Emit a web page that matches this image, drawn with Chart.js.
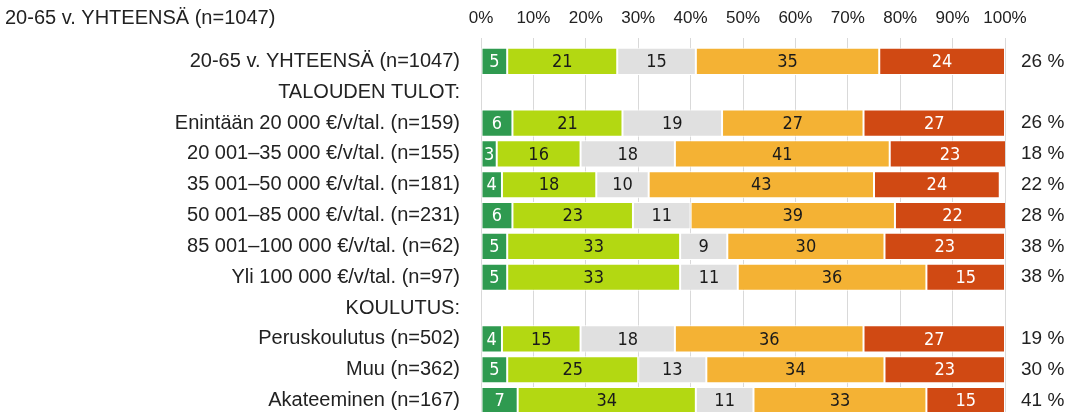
<!DOCTYPE html>
<html>
<head>
<meta charset="utf-8">
<script src="https://cdn.jsdelivr.net/npm/chart.js@4.4.1/dist/chart.umd.min.js"></script>
<style>
  html, body { margin: 0; padding: 0; background: #fff; overflow: hidden; }
  #wrap { width: 1091px; height: 416px; position: relative; }
</style>
</head>
<body>
<div id="wrap"><canvas id="chart"></canvas></div>
<script>
const FONT = '"Liberation Sans", Arial, sans-serif';
const NARROW = '"Liberation Sans Narrow", "DejaVu Sans Condensed", "Liberation Sans", sans-serif';

const title = '20-65 v. YHTEENSÄ (n=1047)';

const categories = [
  '20-65 v. YHTEENSÄ (n=1047)',
  'TALOUDEN TULOT:',
  'Enintään 20 000 €/v/tal. (n=159)',
  '20 001–35 000 €/v/tal. (n=155)',
  '35 001–50 000 €/v/tal. (n=181)',
  '50 001–85 000 €/v/tal. (n=231)',
  '85 001–100 000 €/v/tal. (n=62)',
  'Yli 100 000 €/v/tal. (n=97)',
  'KOULUTUS:',
  'Peruskoulutus (n=502)',
  'Muu (n=362)',
  'Akateeminen (n=167)'
];

// stacked shares per row, header rows are null
const darkGreen  = [5, null, 6, 3, 4, 6, 5, 5, null, 4, 5, 7];
const lightGreen = [21, null, 21, 16, 18, 23, 33, 33, null, 15, 25, 34];
const grey       = [15, null, 19, 18, 10, 11, 9, 11, null, 18, 13, 11];
const orange     = [35, null, 27, 41, 43, 39, 30, 36, null, 36, 34, 33];
const red        = [24, null, 27, 23, 24, 22, 23, 15, null, 27, 23, 15];

const rightLabels = ['26 %', '', '26 %', '18 %', '22 %', '28 %', '38 %', '38 %', '', '19 %', '30 %', '41 %'];
const tickLabels = ['0%', '10%', '20%', '30%', '40%', '50%', '60%', '70%', '80%', '90%', '100%'];

function series(data, bg, textColor) {
  return {
    data: data,
    backgroundColor: bg,
    borderColor: '#ffffff',
    borderWidth: 1,
    borderSkipped: false,
    barPercentage: 0.88,
    categoryPercentage: 1.0,
    textColor: textColor
  };
}

// vertical axes: fixed width and no extra label padding top/bottom
function fixWidth(w) {
  return function (scale) {
    scale.width = w;
    scale.paddingTop = 0;
    scale.paddingBottom = 0;
  };
}

// numbers inside the segments
const valueLabels = {
  id: 'valueLabels',
  afterDatasetsDraw(chart) {
    const ctx = chart.ctx;
    ctx.save();
    ctx.font = '18px ' + NARROW;
    ctx.textAlign = 'center';
    ctx.textBaseline = 'middle';
    chart.data.datasets.forEach((ds, di) => {
      chart.getDatasetMeta(di).data.forEach((bar, i) => {
        const v = ds.data[i];
        if (v == null) return;
        const p = bar.getCenterPoint();
        ctx.fillStyle = ds.textColor;
        ctx.fillText(String(v), p.x, p.y + 1);
      });
    });
    ctx.restore();
  }
};

// heading in the top-left corner, on the tick label line
const cornerTitle = {
  id: 'cornerTitle',
  afterDraw(chart) {
    const ctx = chart.ctx;
    ctx.save();
    ctx.font = '20px ' + FONT;
    ctx.fillStyle = '#222';
    ctx.textAlign = 'left';
    ctx.textBaseline = 'middle';
    ctx.fillText(title, 5, 18);
    ctx.restore();
  }
};

new Chart(document.getElementById('chart').getContext('2d'), {
  type: 'bar',
  data: {
    labels: categories,
    datasets: [
      series(darkGreen, '#2f9a50', '#ffffff'),
      series(lightGreen, '#b3d812', '#1a1a1a'),
      series(grey, '#e0e0e0', '#1a1a1a'),
      series(orange, '#f4b234', '#1a1a1a'),
      series(red, '#d04913', '#ffffff')
    ]
  },
  options: {
    indexAxis: 'y',
    responsive: true,
    maintainAspectRatio: false,
    animation: false,
    layout: { padding: 0 },
    plugins: {
      legend: { display: false },
      tooltip: { enabled: false }
    },
    scales: {
      x: {
        position: 'top',
        stacked: true,
        min: 0,
        max: 100,
        ticks: {
          stepSize: 10,
          color: '#222',
          font: { family: FONT, size: 17 },
          padding: 9,
          callback: (v, i) => tickLabels[i]
        },
        grid: { color: '#d9d9d9', lineWidth: 1, tickLength: 8 },
        border: { display: false },
        afterFit(scale) { scale.height = 46; }
      },
      y: {
        stacked: true,
        ticks: {
          color: '#222',
          font: { family: FONT, size: 20 },
          padding: 13
        },
        grid: { display: false },
        border: { display: false },
        afterFit: fixWidth(481)
      },
      y2: {
        type: 'category',
        position: 'right',
        labels: rightLabels,
        ticks: {
          color: '#222',
          font: { family: FONT, size: 19 },
          padding: 16
        },
        grid: { display: false, drawTicks: false },
        border: { display: false },
        afterFit: fixWidth(86)
      }
    }
  },
  plugins: [valueLabels, cornerTitle]
});
</script>
</body>
</html>
